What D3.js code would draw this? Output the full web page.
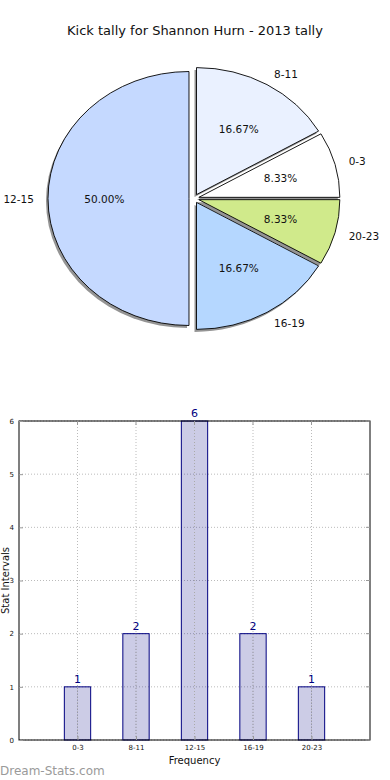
<!DOCTYPE html>
<html><head><meta charset="utf-8">
<script src="https://cdn.jsdelivr.net/npm/d3@7"></script>
<style>
html,body{margin:0;padding:0;background:#fff;}
svg{display:block;font-family:"DejaVu Sans",sans-serif;}
</style></head>
<body>
<svg id="c" width="390" height="780"></svg>
<script>
const categories = ["0-3","8-11","12-15","16-19","20-23"];
const counts = [1,2,6,2,1];
const pieColors = ["#ffffff","#eaf1ff","#c5d9ff","#b5d7ff","#d0ea8b"];
const yTicks = [0,1,2,3,4,5,6];
const title = "Kick tally for Shannon Hurn - 2013 tally";

const svg = d3.select("#c");
svg.append("rect").attr("width",390).attr("height",780).attr("fill","#fff");

svg.append("text").attr("x",195).attr("y",35).attr("text-anchor","middle")
  .attr("font-size",13).attr("fill","#111").text(title);

// ---- Pie ----
const cx = 194, cy = 198.5, rx = 141, ry = 127, ex = 0.0355;
const pie = d3.pie().sort(null).value(d=>d).startAngle(Math.PI/2).endAngle(Math.PI/2 - 2*Math.PI);
const arcs = pie(counts);
const arc = d3.arc().innerRadius(0).outerRadius(1);
const total = d3.sum(counts);

const slices = arcs.map((a,i)=>{
  const mid = (a.startAngle + a.endAngle)/2; // d3 angle
  const th = Math.PI/2 - mid; // mpl angle
  const ox = cx + ex*rx*Math.cos(th), oy = cy - ex*ry*Math.sin(th);
  return {a, i, th, ox, oy};
});
const pg = svg.append("g");
pg.selectAll("path.sh").data(slices).join("path").attr("class","sh")
  .attr("d", d=>arc(d.a))
  .attr("transform", d=>`translate(${d.ox-2},${d.oy+2.5}) scale(${rx},${ry})`)
  .attr("fill","rgba(0,0,0,0.42)");
pg.selectAll("path.sl").data(slices).join("path").attr("class","sl")
  .attr("d", d=>arc(d.a))
  .attr("transform", d=>`translate(${d.ox},${d.oy}) scale(${rx},${ry})`)
  .attr("fill", d=>pieColors[d.i]).attr("stroke","#000").attr("stroke-width",0.9)
  .attr("vector-effect","non-scaling-stroke").attr("stroke-linejoin","round");
pg.selectAll("text.lab").data(slices).join("text").attr("class","lab")
  .attr("x", d=>d.ox + 1.1*rx*Math.cos(d.th))
  .attr("y", d=>d.oy - 1.1*ry*Math.sin(d.th))
  .attr("text-anchor", d=>Math.cos(d.th)>0?"start":"end")
  .attr("dominant-baseline","central").attr("font-size",10.5).attr("fill","#111")
  .text(d=>categories[d.i]);
pg.selectAll("text.pct").data(slices).join("text").attr("class","pct")
  .attr("x", d=>d.ox + 0.6*rx*Math.cos(d.th))
  .attr("y", d=>d.oy - 0.6*ry*Math.sin(d.th))
  .attr("text-anchor","middle")
  .attr("dominant-baseline","central").attr("font-size",10.5).attr("fill","#111")
  .text(d=>(counts[d.i]/total*100).toFixed(2)+"%");

// ---- Bars ----
const L=19, R=370, T=421, B=740;
const x = d3.scaleLinear().domain([-1,5]).range([L,R]);
const y = d3.scaleLinear().domain([0,6]).range([B,T]);
const bw = x(0.45)-x(0);
const bg = svg.append("g");
bg.selectAll("line.gy").data(yTicks).join("line")
  .attr("x1",L).attr("x2",R).attr("y1",d=>y(d)).attr("y2",d=>y(d))
  .attr("stroke","#bbb").attr("stroke-width",1).attr("stroke-dasharray","1,2");
bg.selectAll("line.gx").data(categories).join("line")
  .attr("x1",(d,i)=>x(i)).attr("x2",(d,i)=>x(i)).attr("y1",T).attr("y2",B)
  .attr("stroke","#bbb").attr("stroke-width",1).attr("stroke-dasharray","1,2");
bg.selectAll("rect.bar").data(counts).join("rect")
  .attr("x",(d,i)=>x(i)-bw/2).attr("width",bw)
  .attr("y",d=>y(d)).attr("height",d=>y(0)-y(d))
  .attr("fill","rgba(0,0,128,0.2)").attr("stroke","#000080").attr("stroke-width",1);
bg.selectAll("line.gx2").data(categories).join("line")
  .attr("x1",(d,i)=>x(i)).attr("x2",(d,i)=>x(i)).attr("y1",(d,i)=>y(counts[i])).attr("y2",B)
  .attr("stroke","#aaa").attr("stroke-width",1).attr("stroke-dasharray","1,2");
bg.selectAll("line.gy2").data(yTicks).join("line")
  .attr("x1",(d,i)=>x(counts.findIndex(c=>c>=d))-bw/2).attr("x2",R)
  .attr("y1",d=>y(d)).attr("y2",d=>y(d)).attr("stroke","none");
bg.selectAll("text.val").data(counts).join("text")
  .attr("x",(d,i)=>x(i)).attr("y",d=>y(d)-4).attr("text-anchor","middle")
  .attr("font-size",11).attr("fill","#000080").text(d=>d);
bg.append("rect").attr("x",L).attr("y",T).attr("width",R-L).attr("height",B-T)
  .attr("fill","none").attr("stroke","#000").attr("stroke-width",1);
const yAx = d3.axisLeft(y).tickValues(yTicks).tickSize(-4).tickPadding(5).tickFormat(d3.format("d"));
const gy = bg.append("g").attr("transform",`translate(${L},0)`).call(yAx);
gy.select(".domain").remove();
gy.selectAll("line").attr("stroke","#999");
gy.selectAll("text").attr("font-size",7).attr("fill","#111").attr("font-family","DejaVu Sans");
const xAx = d3.axisBottom(x).tickValues([0,1,2,3,4]).tickSize(-4).tickPadding(5).tickFormat(i=>categories[i]);
const gx = bg.append("g").attr("transform",`translate(0,${B})`).call(xAx);
gx.select(".domain").remove();
gx.selectAll("line").attr("stroke","#999");
gx.selectAll("text").attr("font-size",7).attr("fill","#111").attr("font-family","DejaVu Sans");
bg.selectAll("line.rt").data(yTicks).join("line").attr("x1",R).attr("x2",R-4)
  .attr("y1",d=>y(d)).attr("y2",d=>y(d)).attr("stroke","#999");
bg.selectAll("line.tt").data(categories).join("line").attr("y1",T).attr("y2",T+4)
  .attr("x1",(d,i)=>x(i)).attr("x2",(d,i)=>x(i)).attr("stroke","#999");

bg.append("text").attr("x",(L+R)/2).attr("y",764).attr("text-anchor","middle")
  .attr("font-size",10).attr("fill","#111").text("Frequency");
bg.append("text").attr("transform",`translate(9,${(T+B)/2}) rotate(-90)`)
  .attr("text-anchor","middle").attr("font-size",10).attr("fill","#111").text("Stat Intervals");

svg.append("text").attr("x",0).attr("y",775).attr("font-size",12)
  .attr("fill","#9a9a9a").text("Dream-Stats.com");
</script>
</body></html>
